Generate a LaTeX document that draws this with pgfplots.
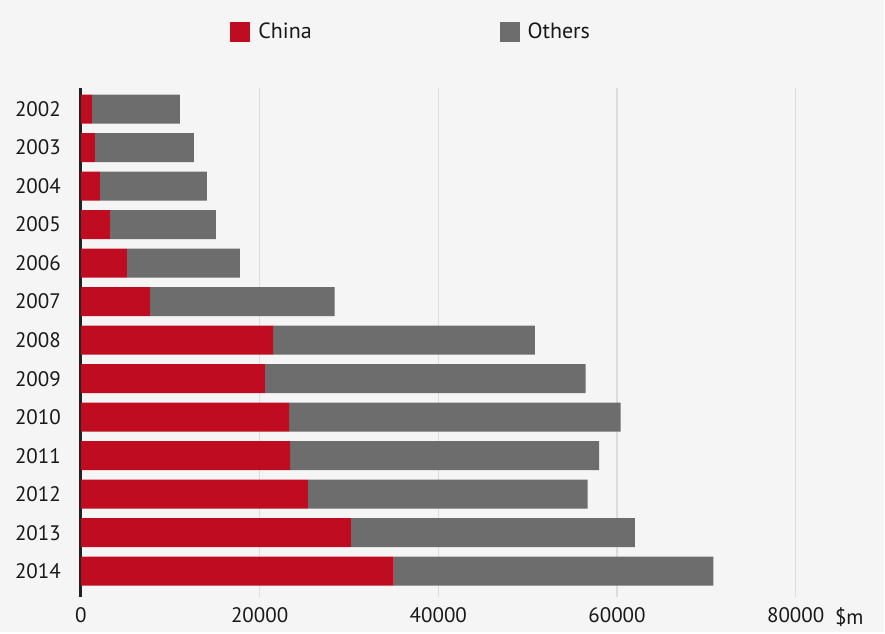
\documentclass[border=0pt]{standalone}
\usepackage{pgfplots}
\pgfplotsset{compat=1.18}
\usepackage{fontspec}
\setmainfont{PT Sans}
\definecolor{cnred}{HTML}{C00C20}
\definecolor{othgray}{HTML}{6D6D6D}
\definecolor{bgc}{HTML}{F5F5F5}
\definecolor{gridc}{HTML}{DCDCDC}
\begin{document}
\fontsize{21}{25}\selectfont
\begin{tikzpicture}
\fill[bgc] (0pt,0pt) rectangle (885pt,632pt);
\begin{axis}[
  at={(81pt,35pt)}, anchor=south west,
  scale only axis, width=804.6pt, height=509pt,
  xbar stacked, bar width=29pt,
  xmin=0, xmax=90000, ymin=-0.55, ymax=12.66, y dir=reverse,
  ytick={0,...,12},
  yticklabels={2002,2003,2004,2005,2006,2007,2008,2009,2010,2011,2012,2013,2014},
  xtick={0,20000,40000,60000,80000},
  extra x ticks={86000}, extra x tick labels={\$m},
  extra x tick style={grid=none},
  scaled x ticks=false,
  /pgf/number format/.cd, 1000 sep={}, assume math mode=true,
  /pgfplots/.cd,
  major tick length=0pt,
  xmajorgrids, grid style={gridc, line width=1.5pt},
  axis lines*=left,
  x axis line style={draw=none},
  y axis line style={draw=black!87, line width=3pt},
  every tick label/.append style={font=\fontsize{21}{25}\selectfont, text=black!90},
  yticklabel style={xshift=-13pt},
  xticklabel style={yshift=-4pt},
  legend columns=2,
  legend style={at={(0.1855,1.11)}, anchor=west, draw=none, fill=none, inner sep=0pt,
    font=\fontsize{22}{26}\selectfont, text=black!90,
    /tikz/every odd column/.append style={column sep=6pt},
    /tikz/every even column/.append style={column sep=186pt}},
  legend image code/.code={\fill[#1] (0pt,-10pt) rectangle (20pt,10pt);},
]
\addplot[fill=cnred, draw=none] coordinates {
 (1230,0) (1570,1) (2130,2) (3240,3) (5150,4) (7720,5) (21500,6)
 (20600,7) (23300,8) (23400,9) (25400,10) (30200,11) (35000,12)};
\addplot[fill=othgray, draw=none] coordinates {
 (9840,0) (11070,1) (11970,2) (11860,3) (12650,4) (20680,5) (29300,6)
 (35900,7) (37100,8) (34600,9) (31300,10) (31800,11) (35800,12)};
\legend{China, Others}
\end{axis}
\end{tikzpicture}
\end{document}
